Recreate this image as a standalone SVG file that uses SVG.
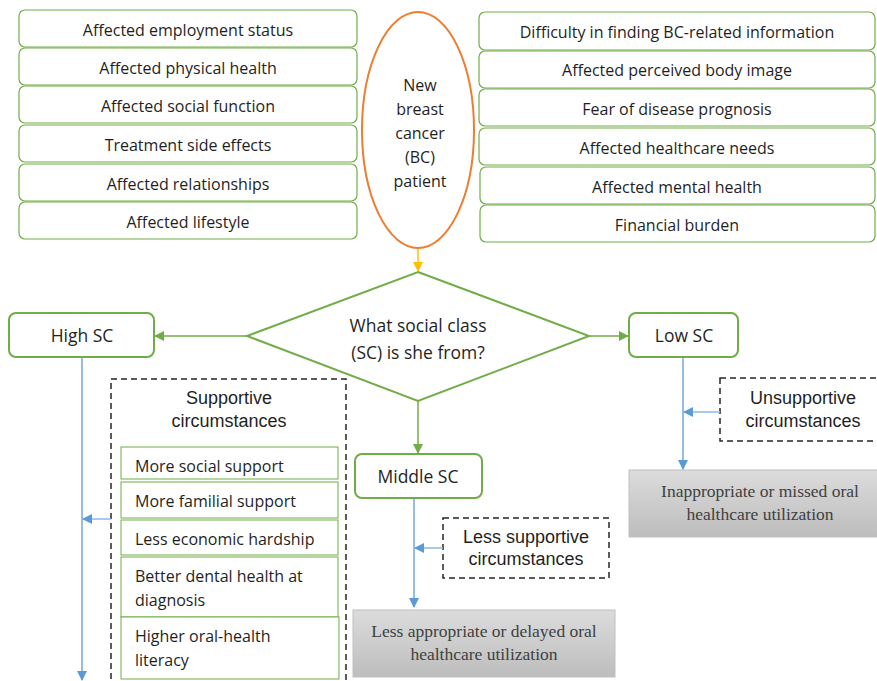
<svg xmlns="http://www.w3.org/2000/svg" width="877" height="681" viewBox="0 0 877 681">
<defs>
<style>
.t{font-family:"Open Sans","Noto Sans",sans-serif;fill:#1f1f1f;}
.a{font-family:"Liberation Sans",Arial,sans-serif;fill:#1f1f1f;}
.s{font-family:"Liberation Serif","Times New Roman",serif;fill:#404040;}
.box{fill:#fff;stroke:#70AD47;stroke-width:1.2;}
.inner{fill:#fff;stroke:#70AD47;stroke-width:1;}
.node{fill:#fff;stroke:#70AD47;stroke-width:2;}
.dash{fill:#fff;stroke:#262626;stroke-width:1.5;stroke-dasharray:6,4;}
.grey{fill:url(#g);stroke:#BFBFBF;stroke-width:1;}
.green{stroke:#70AD47;stroke-width:1.5;fill:none;}
.blue{stroke:#5B9BD5;stroke-width:1.3;fill:none;}
.lblue{stroke:#8DB8E3;stroke-width:1.5;fill:none;}
</style>
<linearGradient id="g" x1="0" y1="0" x2="0" y2="1">
<stop offset="0" stop-color="#DCDCDC"/>
<stop offset="1" stop-color="#BDBDBD"/>
</linearGradient>
<marker id="mg" markerWidth="10" markerHeight="10" refX="9" refY="5" orient="auto" markerUnits="userSpaceOnUse"><path d="M0,0 L10,5 L0,10 z" fill="#70AD47"/></marker>
<marker id="mo" markerWidth="10" markerHeight="10" refX="9" refY="5" orient="auto" markerUnits="userSpaceOnUse"><path d="M0,0 L10,5 L0,10 z" fill="#FFC000"/></marker>
<marker id="mb" markerWidth="10" markerHeight="10" refX="9" refY="5" orient="auto" markerUnits="userSpaceOnUse"><path d="M0,0 L10,5 L0,10 z" fill="#5B9BD5"/></marker>
</defs>
<rect width="877" height="681" fill="#fff"/>

<g id="left-factors" font-size="16" text-anchor="middle">
<g id="l1"><rect class="box" x="19" y="10" width="338" height="37" rx="6"/><text class="t" x="188" y="36">Affected employment status</text></g>
<g id="l2"><rect class="box" x="19" y="48" width="338" height="37" rx="6"/><text class="t" x="188" y="74">Affected physical health</text></g>
<g id="l3"><rect class="box" x="19" y="86" width="338" height="37" rx="6"/><text class="t" x="188" y="112">Affected social function</text></g>
<g id="l4"><rect class="box" x="19" y="125" width="338" height="37" rx="6"/><text class="t" x="188" y="151">Treatment side effects</text></g>
<g id="l5"><rect class="box" x="19" y="164" width="338" height="37" rx="6"/><text class="t" x="188" y="190">Affected relationships</text></g>
<g id="l6"><rect class="box" x="19" y="202" width="338" height="37" rx="6"/><text class="t" x="188" y="228">Affected lifestyle</text></g>
</g>

<g id="right-factors" font-size="16" text-anchor="middle">
<g id="r1"><rect class="box" x="479" y="12" width="396" height="38" rx="6"/><text class="t" x="677" y="38">Difficulty in finding BC-related information</text></g>
<g id="r2"><rect class="box" x="479" y="51" width="396" height="37" rx="6"/><text class="t" x="677" y="76">Affected perceived body image</text></g>
<g id="r3"><rect class="box" x="479" y="89" width="396" height="37" rx="6"/><text class="t" x="677" y="115">Fear of disease prognosis</text></g>
<g id="r4"><rect class="box" x="479" y="128" width="396" height="37" rx="6"/><text class="t" x="677" y="154">Affected healthcare needs</text></g>
<g id="r5"><rect class="box" x="480" y="167" width="395" height="37" rx="6"/><text class="t" x="677" y="193">Affected mental health</text></g>
<g id="r6"><rect class="box" x="480" y="205" width="395" height="37" rx="6"/><text class="t" x="677" y="231">Financial burden</text></g>
</g>

<g id="patient">
<ellipse cx="418" cy="130" rx="56" ry="118" fill="#fff" stroke="#ED7D31" stroke-width="2"/>
<text class="t" font-size="16" text-anchor="middle"><tspan x="420" y="91">New</tspan><tspan x="420" y="115">breast</tspan><tspan x="420" y="139">cancer</tspan><tspan x="420" y="163">(BC)</tspan><tspan x="420" y="187">patient</tspan></text>
</g>

<g id="question">
<polygon points="418,272 589,336 418,401 247,336" fill="#fff" stroke="#70AD47" stroke-width="2"/>
<text class="t" font-size="17.5" text-anchor="middle"><tspan x="418" y="332">What social class</tspan><tspan x="418" y="359">(SC) is she from?</tspan></text>
</g>

<g id="high-sc"><rect class="node" x="9" y="313" width="145" height="44" rx="7"/><text class="t" font-size="17.5" text-anchor="middle" x="82" y="342">High SC</text></g>
<g id="low-sc"><rect class="node" x="629" y="313" width="109" height="44" rx="7"/><text class="t" font-size="17.5" text-anchor="middle" x="684" y="342">Low SC</text></g>
<g id="middle-sc"><rect class="node" x="355" y="454" width="127" height="44" rx="7"/><text class="t" font-size="17.5" text-anchor="middle" x="418" y="483">Middle SC</text></g>

<g id="supportive">
<rect class="dash" x="111" y="379" width="235" height="320"/>
<text class="a" font-size="18" text-anchor="middle"><tspan x="229" y="404">Supportive</tspan><tspan x="229" y="427">circumstances</tspan></text>
<g class="t" font-size="16">
<rect class="inner" x="121" y="447" width="217" height="32"/><text x="135" y="472">More social support</text>
<rect class="inner" x="121" y="482" width="217" height="36"/><text x="135" y="507">More familial support</text>
<rect class="inner" x="121" y="520" width="217" height="35"/><text x="135" y="545">Less economic hardship</text>
<rect class="inner" x="121" y="557" width="217" height="60"/><text x="135" y="582">Better dental health at</text><text x="135" y="606">diagnosis</text>
<rect class="inner" x="121" y="617" width="218" height="62"/><text x="135" y="642">Higher oral-health</text><text x="135" y="666">literacy</text>
</g>
</g>

<g id="less-supportive">
<rect class="dash" x="443" y="518" width="166" height="60"/>
<text class="a" font-size="18" text-anchor="middle"><tspan x="526" y="543">Less supportive</tspan><tspan x="526" y="565">circumstances</tspan></text>
</g>

<g id="unsupportive">
<rect class="dash" x="720" y="378" width="170" height="63"/>
<text class="a" font-size="18" text-anchor="middle"><tspan x="803" y="404">Unsupportive</tspan><tspan x="803" y="427">circumstances</tspan></text>
</g>

<g id="middle-outcome">
<rect class="grey" x="353" y="610" width="262" height="67"/>
<text class="s" font-size="17.5" text-anchor="middle"><tspan x="484" y="637">Less appropriate or delayed oral</tspan><tspan x="484" y="660">healthcare utilization</tspan></text>
</g>

<g id="low-outcome">
<rect class="grey" x="629" y="470" width="250" height="67"/>
<text class="s" font-size="17.5" text-anchor="middle"><tspan x="760" y="497">Inappropriate or missed oral</tspan><tspan x="760" y="520">healthcare utilization</tspan></text>
</g>

<g id="connectors">
<line x1="418" y1="249" x2="418" y2="271" stroke="#FFC000" stroke-width="1.5" marker-end="url(#mo)"/>
<line class="green" x1="247" y1="336" x2="155" y2="336" marker-end="url(#mg)"/>
<line class="green" x1="589" y1="336" x2="628" y2="336" marker-end="url(#mg)"/>
<line class="green" x1="418" y1="401" x2="418" y2="453" stroke-width="2" marker-end="url(#mg)"/>
<line class="blue" x1="82" y1="357" x2="82" y2="680" marker-end="url(#mb)"/>
<line class="lblue" x1="111" y1="519" x2="83" y2="519" marker-end="url(#mb)"/>
<line class="blue" x1="414" y1="498" x2="414" y2="607" marker-end="url(#mb)"/>
<line class="lblue" x1="443" y1="548" x2="415" y2="548" marker-end="url(#mb)"/>
<line class="blue" x1="683" y1="357" x2="683" y2="469" marker-end="url(#mb)"/>
<line class="lblue" x1="720" y1="412" x2="684" y2="412" marker-end="url(#mb)"/>
</g>
</svg>
